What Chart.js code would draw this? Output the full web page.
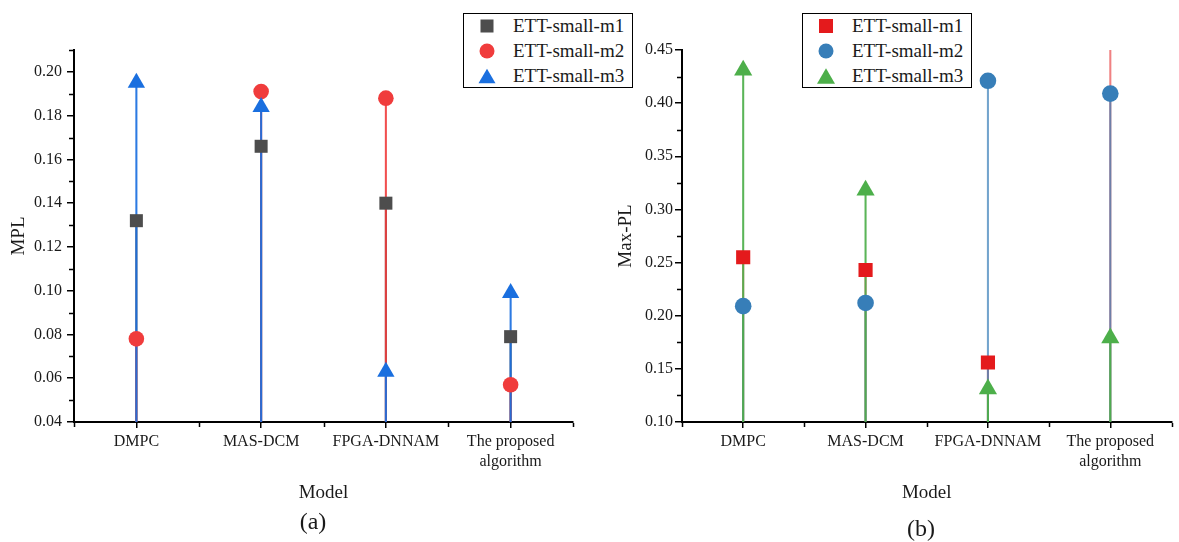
<!DOCTYPE html>
<html>
<head>
<meta charset="utf-8">
<script src="https://cdn.jsdelivr.net/npm/chart.js@4.4.0/dist/chart.umd.min.js"></script>
<style>
  html, body { margin: 0; padding: 0; background: #fff; overflow: hidden; }
  body { width: 1179px; height: 542px; position: relative; font-family: 'Liberation Serif', 'Times New Roman', serif; color: #1a1a1a; }
  canvas { position: absolute; left: 0; top: 0; pointer-events: none; }
  .legend { position: absolute; top: 13px; width: 168px; height: 73px; border: 1px solid #000; background: #fff; }
  .legend .row { position: absolute; left: 0; width: 168px; height: 24px; font-size: 19px; line-height: 24px; white-space: nowrap; }
  .legend svg { position: absolute; left: 13px; top: 2px; }
  .legend span { position: absolute; left: 49px; top: 0; }
  .panel-label { position: absolute; font-size: 24px; transform: translate(-50%, -50%); }
</style>
</head>
<body>
<canvas id="chartA" width="1179" height="542"></canvas>
<canvas id="chartB" width="1182" height="542"></canvas>
<div class="legend" id="legendA" style="left:463px"></div>
<div class="legend" id="legendB" style="left:802px"></div>
<div class="panel-label" style="left:313px;top:521px">(a)</div>
<div class="panel-label" style="left:921px;top:528px">(b)</div>
<script>
// categories and series
const models = ['DMPC', 'MAS-DCM', 'FPGA-DNNAM', ['The proposed', 'algorithm']];
const seriesNames = ['ETT-small-m1', 'ETT-small-m2', 'ETT-small-m3'];

// (a) MPL
const mplM1 = [0.132, 0.166, 0.140, 0.079];
const mplM2 = [0.078, 0.191, 0.188, 0.057];
const mplM3 = [0.195, 0.184, 0.063, 0.099];
const mplTicks = [0.04, 0.06, 0.08, 0.10, 0.12, 0.14, 0.16, 0.18, 0.20];

// (b) Max-PL  (m1 of the proposed algorithm sits above the axis top)
const maxM1 = [0.255, 0.243, 0.156, 0.47];
const maxM2 = [0.209, 0.212, 0.421, 0.409];
const maxM3 = [0.431, 0.318, 0.131, 0.179];
const maxTicks = [0.10, 0.15, 0.20, 0.25, 0.30, 0.35, 0.40, 0.45];

const FONT = "'Liberation Serif', 'Times New Roman', serif";
const TEXT = '#1a1a1a';
Chart.defaults.font.family = FONT;

const shapes = ['rect', 'circle', 'triangle'];

const styleA = {
  colors: ['#4d4d4d', '#f03c3c', '#1a6fdf'],
  stems: ['rgba(77,77,77,0.9)', 'rgba(240,60,60,0.9)', 'rgba(26,111,223,0.92)'],
  radii: [9.2, 7.8, 10],
  legendSize: [13, 15, 17]
};
const styleB = {
  colors: ['#e41a1c', '#377eb8', '#4daf4a'],
  stems: ['rgba(228,26,28,0.55)', 'rgba(55,126,184,0.7)', 'rgba(77,175,74,0.92)'],
  radii: [10, 8.3, 10.5],
  legendSize: [14, 15, 18]
};

function stemDatasets(series, st) {
  const points = series.map((v, i) => ({
    type: 'line', label: seriesNames[i], data: v, showLine: false,
    order: 2 - i,
    pointStyle: shapes[i], pointRadius: st.radii[i], pointHoverRadius: st.radii[i],
    pointBackgroundColor: st.colors[i], pointBorderWidth: 0,
    clip: { left: 20, right: 20, top: 0, bottom: 20 }
  }));
  const stems = series.map((v, i) => ({
    type: 'bar', label: seriesNames[i] + ' stem', data: v,
    order: 5 - i, grouped: false, barThickness: 1.4,
    backgroundColor: st.stems[i], borderWidth: 0
  }));
  return points.concat(stems);
}

// minor ticks between the major ones, and at the category edges
const minorTicks = {
  id: 'minorTicks',
  afterDraw(chart) {
    const { ctx, chartArea: a, scales: { x, y } } = chart;
    ctx.save();
    ctx.strokeStyle = '#000';
    ctx.lineWidth = 1.5;
    ctx.beginPath();
    const vals = y.ticks.map(t => t.value);
    const step = vals[1] - vals[0];
    const minors = [];
    for (let i = 0; i < vals.length - 1; i++) minors.push((vals[i] + vals[i + 1]) / 2);
    if (vals[vals.length - 1] + step / 2 <= y.max + 1e-9) minors.push(vals[vals.length - 1] + step / 2);
    minors.forEach(v => {
      const py = Math.round(y.getPixelForValue(v)) + 0.5;
      ctx.moveTo(a.left - 1, py);
      ctx.lineTo(a.left - 5, py);
    });
    const xs = [a.left, a.right];
    for (let i = 0; i < x.ticks.length - 1; i++) {
      xs.push((x.getPixelForTick(i) + x.getPixelForTick(i + 1)) / 2);
    }
    xs.forEach(px => {
      px = Math.round(px) + 0.5;
      ctx.moveTo(px, a.bottom + 1);
      ctx.lineTo(px, a.bottom + 5);
    });
    ctx.stroke();
    ctx.restore();
  }
};

function makeOptions(o) {
  return {
    responsive: false,
    animation: false,
    events: [],
    layout: { padding: o.padding },
    plugins: { legend: { display: false }, tooltip: { enabled: false } },
    scales: {
      x: {
        type: 'category', offset: true,
        grid: { display: true, drawOnChartArea: false, drawTicks: true, tickLength: 6, color: '#000', lineWidth: 1.5, offset: false },
        border: { display: true, color: '#000', width: 2 },
        ticks: { color: TEXT, font: { family: FONT, size: 16, lineHeight: 1.25 }, padding: 4, maxRotation: 0, autoSkip: false },
        title: { display: true, text: 'Model', color: TEXT, font: { family: FONT, size: 19 }, padding: { top: 0, bottom: 38 } },
        afterFit: s => { s.height = 120; }
      },
      y: {
        min: o.min, max: o.max,
        afterBuildTicks: s => { s.ticks = o.ticks.map(v => ({ value: v })); },
        grid: { display: true, drawOnChartArea: false, drawTicks: true, tickLength: 7, color: '#000', lineWidth: 1.5 },
        border: { display: true, color: '#000', width: 2 },
        ticks: { color: TEXT, font: { family: FONT, size: 16 }, padding: o.tickPad, callback: v => v.toFixed(2) },
        title: { display: true, text: o.title, color: TEXT, font: { family: FONT, size: 19 }, padding: { top: o.titlePad, bottom: 0 } },
        afterFit: s => { s.width = o.yWidth; }
      }
    }
  };
}

new Chart(document.getElementById('chartA'), {
  type: 'bar',
  data: { labels: models, datasets: stemDatasets([mplM1, mplM2, mplM3], styleA) },
  options: makeOptions({
    padding: { top: 50, left: 0, right: 606, bottom: 0 },
    min: 0.04, max: 0.21, ticks: mplTicks, tickPad: 5,
    title: 'MPL', titlePad: 7.6, yWidth: 74
  }),
  plugins: [minorTicks]
});

new Chart(document.getElementById('chartB'), {
  type: 'bar',
  data: { labels: models, datasets: stemDatasets([maxM1, maxM2, maxM3], styleB) },
  options: makeOptions({
    padding: { top: 50, left: 600, right: 0, bottom: 0 },
    min: 0.10, max: 0.45, ticks: maxTicks, tickPad: 2,
    title: 'Max-PL', titlePad: 14.6, yWidth: 82
  }),
  plugins: [minorTicks]
});

// legends
function symbolSvg(shape, color, size) {
  let inner;
  if (shape === 'rect') {
    const o = 10 - size / 2;
    inner = `<rect x="${o}" y="${o}" width="${size}" height="${size}" fill="${color}"/>`;
  } else if (shape === 'circle') {
    inner = `<circle cx="10" cy="10" r="${size / 2}" fill="${color}"/>`;
  } else {
    const h = size * 0.866;
    inner = `<polygon points="10,${10 - h / 2} ${10 + size / 2},${10 + h / 2} ${10 - size / 2},${10 + h / 2}" fill="${color}"/>`;
  }
  return `<svg width="20" height="20" viewBox="0 0 20 20">${inner}</svg>`;
}

function buildLegend(id, st) {
  const box = document.getElementById(id);
  seriesNames.forEach((name, i) => {
    const row = document.createElement('div');
    row.className = 'row';
    row.style.top = (i * 25) + 'px';
    row.innerHTML = symbolSvg(shapes[i], st.colors[i], st.legendSize[i]) + '<span>' + name + '</span>';
    box.appendChild(row);
  });
}
buildLegend('legendA', styleA);
buildLegend('legendB', styleB);
</script>
</body>
</html>
